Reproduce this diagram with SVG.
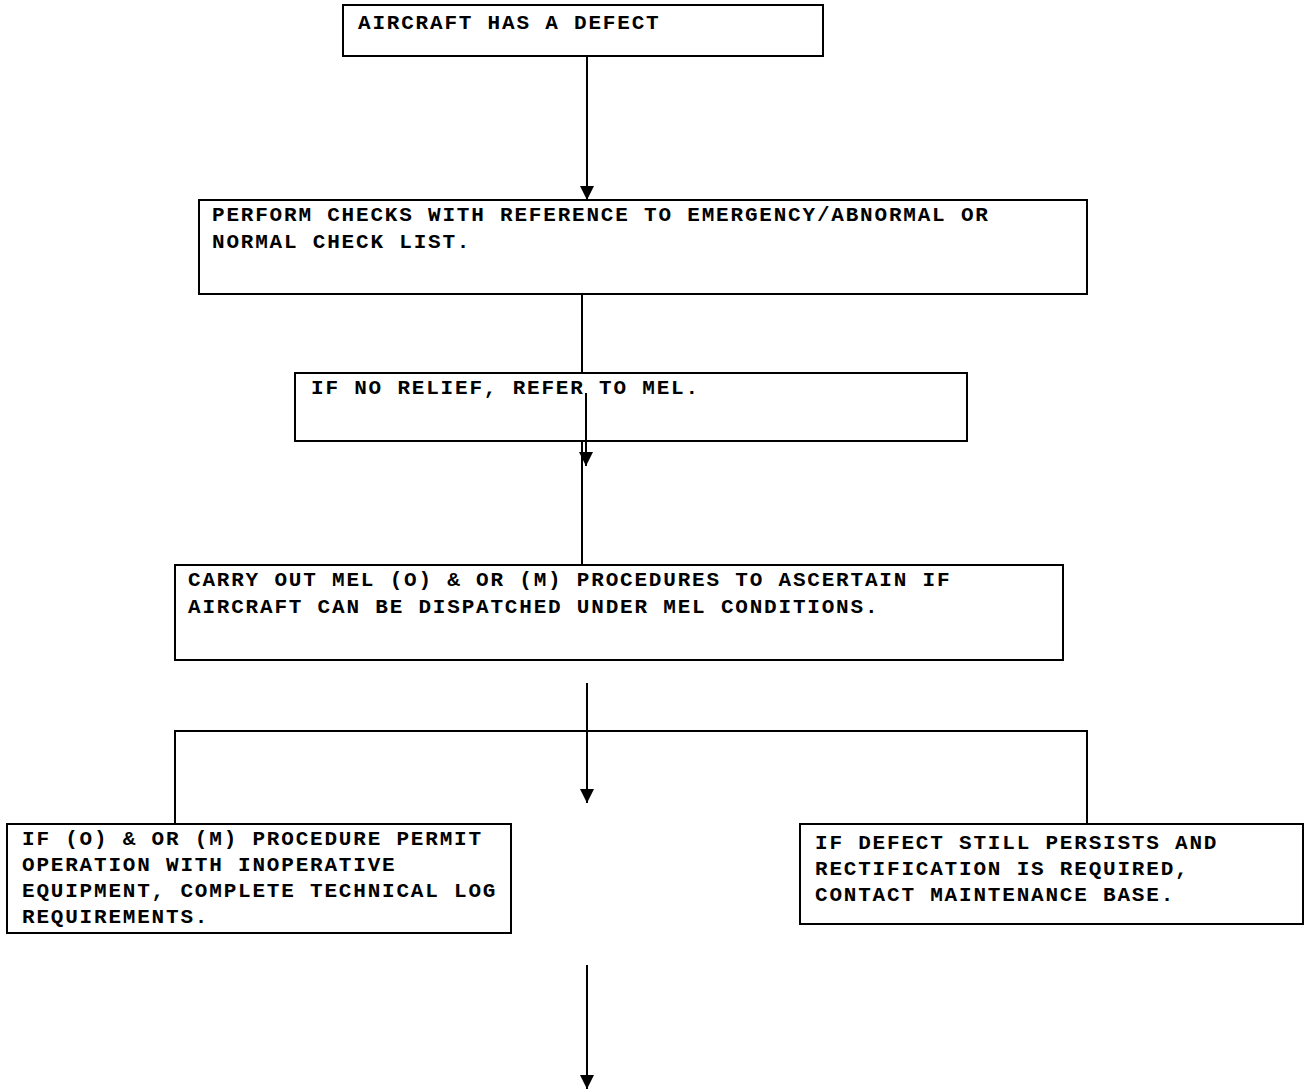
<svg xmlns="http://www.w3.org/2000/svg" width="1305" height="1090" viewBox="0 0 1305 1090">
<style>
.box{fill:#fff;stroke:#000;stroke-width:2}
.t{font-family:'Courier New','Liberation Mono',monospace;font-weight:bold;font-size:21px;letter-spacing:1.8px;fill:#000}
.c{fill:none;stroke:#000;stroke-width:2}
</style>
<defs>
<marker id="ah" viewBox="0 -7 14 14" refX="14" refY="0" markerWidth="14" markerHeight="14" markerUnits="userSpaceOnUse" orient="auto">
<path d="M0,-7 L14,0 L0,7 Z" fill="#000"/>
</marker>
</defs>
<rect width="1305" height="1090" fill="#fff"/>
<g id="n1"><rect class="box" x="343" y="5" width="480" height="51"/>
<text class="t" x="358" y="29">AIRCRAFT HAS A DEFECT</text></g>
<g id="n2"><rect class="box" x="199" y="200" width="888" height="94"/>
<text class="t" x="212" y="221">PERFORM CHECKS WITH REFERENCE TO EMERGENCY/ABNORMAL OR</text>
<text class="t" x="212" y="248">NORMAL CHECK LIST.</text></g>
<g id="n3"><rect class="box" x="295" y="373" width="672" height="68"/>
<text class="t" x="311" y="394">IF NO RELIEF, REFER TO MEL.</text></g>
<g id="n4"><rect class="box" x="175" y="565" width="888" height="95"/>
<text class="t" x="188" y="586">CARRY OUT MEL (O) &amp; OR (M) PROCEDURES TO ASCERTAIN IF</text>
<text class="t" x="188" y="613">AIRCRAFT CAN BE DISPATCHED UNDER MEL CONDITIONS.</text></g>
<g id="n5"><rect class="box" x="7" y="824" width="504" height="109"/>
<text class="t" x="22" y="845">IF (O) &amp; OR (M) PROCEDURE PERMIT</text>
<text class="t" x="22" y="871">OPERATION WITH INOPERATIVE</text>
<text class="t" x="22" y="897">EQUIPMENT, COMPLETE TECHNICAL LOG</text>
<text class="t" x="22" y="923">REQUIREMENTS.</text></g>
<g id="n6"><rect class="box" x="800" y="824" width="503" height="100"/>
<text class="t" x="815" y="849">IF DEFECT STILL PERSISTS AND</text>
<text class="t" x="815" y="875">RECTIFICATION IS REQUIRED,</text>
<text class="t" x="815" y="901">CONTACT MAINTENANCE BASE.</text></g>
<g id="connectors">
<line class="c" x1="587" y1="56" x2="587" y2="200" marker-end="url(#ah)"/>
<line class="c" x1="582" y1="294" x2="582" y2="373"/>
<line class="c" x1="586" y1="393" x2="586" y2="466" marker-end="url(#ah)"/>
<line class="c" x1="582" y1="441" x2="582" y2="565"/>
<line class="c" x1="587" y1="683" x2="587" y2="803" marker-end="url(#ah)"/>
<polyline class="c" points="175,824 175,731 1087,731 1087,824"/>
<line class="c" x1="587" y1="965" x2="587" y2="1089" marker-end="url(#ah)"/>
</g>
</svg>
